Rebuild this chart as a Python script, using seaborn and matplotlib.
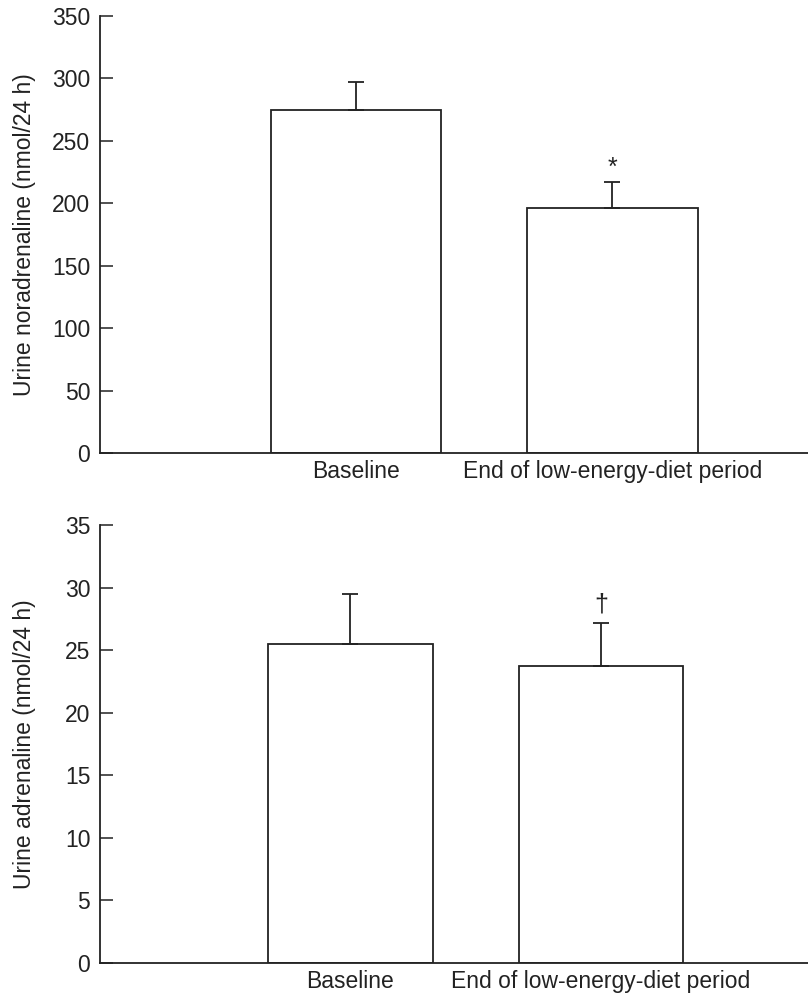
import numpy as np
import pandas as pd
import seaborn as sns
import matplotlib.pyplot as plt

# ---------------- Data ----------------
periods = ["Baseline", "End of low-energy-diet period"]
noradrenaline = [275, 196]
noradrenaline_se = [22, 21]
adrenaline = [25.5, 23.7]
adrenaline_se = [4.0, 3.5]
marks = ["*", "\u2020"]

sns.set_theme(style="white")
plt.rcParams["font.family"] = ["Liberation Sans", "DejaVu Sans"]
plt.rcParams["axes.linewidth"] = 1.3
ink = "#222222"
fs = 16.5

fig = plt.figure(figsize=(8.08, 9.94), dpi=100)
ax1 = fig.add_axes([0.1238, 0.5443, 0.876, 0.4396])
ax2 = fig.add_axes([0.1238, 0.0315, 0.876, 0.4403])

panels = [
    (ax1, noradrenaline, noradrenaline_se, "Urine noradrenaline (nmol/24 h)",
     350, 50, marks[0], 0.665, 1.763, 10),
    (ax2, adrenaline, adrenaline_se, "Urine adrenaline (nmol/24 h)",
     35, 5, marks[1], 0.656, 1.827, 13),
]

for ax, vals, se, ylab, ymax, step, mark, w, xr, off in panels:
    df = pd.DataFrame({"period": periods, "value": vals})
    sns.barplot(data=df, x="period", y="value", ax=ax, color="white",
                edgecolor=ink, linewidth=1.3, width=w, errorbar=None,
                saturation=1)
    xs = np.arange(len(periods))
    ax.errorbar(xs, vals, yerr=[np.zeros(len(se)), se], fmt="none",
                ecolor=ink, elinewidth=1.3, capsize=6, capthick=1.3)
    # significance mark above the second bar
    ax.annotate(mark, xy=(xs[1], vals[1] + se[1]), xytext=(0, off),
                textcoords="offset points", ha="center", va="center",
                fontsize=18, color=ink)
    ax.set_xlim(-1.0, xr)
    ax.set_ylim(0, ymax)
    ax.set_yticks(np.arange(0, ymax + step, step))
    ax.set_xlabel("")
    ax.set_ylabel(ylab, fontsize=fs, color=ink)
    ax.yaxis.set_label_coords(-0.09, 0.5)
    ax.tick_params(axis="y", direction="in", length=9, width=1.1,
                   colors=ink, labelsize=fs, pad=7, left=True)
    ax.tick_params(axis="x", length=0, labelsize=fs, colors=ink, pad=5)
    for s in ["top", "right"]:
        ax.spines[s].set_visible(False)
    for s in ["left", "bottom"]:
        ax.spines[s].set_color(ink)

fig.savefig("out.png", dpi=100)
